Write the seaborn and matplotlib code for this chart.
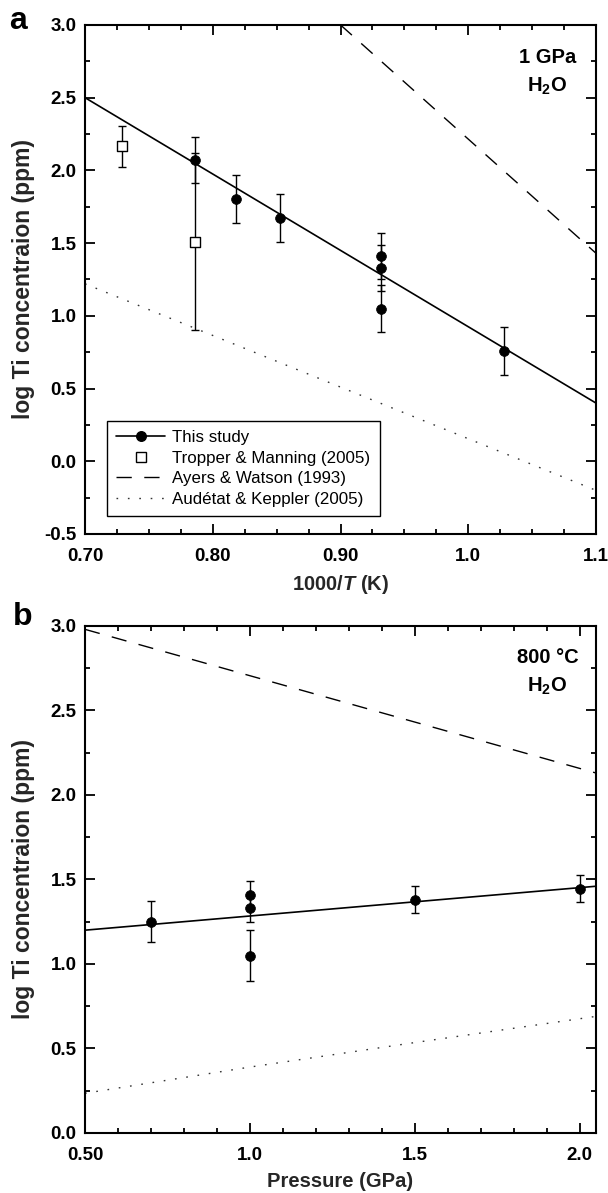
import matplotlib
matplotlib.use("Agg")
import matplotlib.pyplot as plt
import seaborn as sns
from matplotlib.lines import Line2D
from matplotlib.ticker import MultipleLocator

# ---------------- data (panel a: 1 GPa, H2O) ----------------
this_invT = [0.786, 0.818, 0.853, 0.932, 0.932, 0.932, 1.028]
this_logTi = [2.07, 1.80, 1.67, 1.41, 1.33, 1.05, 0.755]
this_err = [0.16, 0.165, 0.165, 0.16, 0.16, 0.16, 0.165]

tm_invT = [0.729, 0.786]
tm_logTi = [2.165, 1.51]
tm_err = [0.14, 0.61]

fit_a_x = [0.70, 1.10]
fit_a_y = [2.50, 0.40]
ayers_a_x = [0.90, 1.10]
ayers_a_y = [3.00, 1.43]
audetat_a_x = [0.70, 1.10]
audetat_a_y = [1.22, -0.20]

# ---------------- data (panel b: 800 C, H2O) ----------------
press = [0.70, 1.00, 1.00, 1.00, 1.50, 2.00]
press_logTi = [1.25, 1.41, 1.33, 1.05, 1.38, 1.445]
press_err = [0.12, 0.08, 0.08, 0.15, 0.08, 0.08]

fit_b_x = [0.50, 2.05]
fit_b_y = [1.20, 1.46]
ayers_b_x = [0.50, 2.05]
ayers_b_y = [2.98, 2.13]
audetat_b_x = [0.50, 1.00, 1.50, 2.05]
audetat_b_y = [0.235, 0.39, 0.535, 0.69]

xticks_a = [0.70, 0.80, 0.90, 1.0, 1.1]
xticklabels_a = ["0.70", "0.80", "0.90", "1.0", "1.1"]
yticks_a = [-0.5, 0.0, 0.5, 1.0, 1.5, 2.0, 2.5, 3.0]
yticklabels_a = ["-0.5", "0.0", "0.5", "1.0", "1.5", "2.0", "2.5", "3.0"]
xticks_b = [0.50, 1.0, 1.5, 2.0]
xticklabels_b = ["0.50", "1.0", "1.5", "2.0"]
yticks_b = [0.0, 0.5, 1.0, 1.5, 2.0, 2.5, 3.0]
yticklabels_b = ["0.0", "0.5", "1.0", "1.5", "2.0", "2.5", "3.0"]

legend_labels = ["This study", "Tropper & Manning (2005)",
                 "Ayers & Watson (1993)", "Audétat & Keppler (2005)"]

# ---------------- style ----------------
sns.set_theme(style="ticks")
plt.rcParams["font.family"] = ["Liberation Sans", "DejaVu Sans"]
plt.rcParams["mathtext.fontset"] = "custom"
plt.rcParams["mathtext.rm"] = "Liberation Sans"
plt.rcParams["mathtext.bf"] = "Liberation Sans:bold"
plt.rcParams["mathtext.it"] = "Liberation Sans:bold:italic"
plt.rcParams["axes.edgecolor"] = "black"
plt.rcParams["xtick.color"] = "black"
plt.rcParams["ytick.color"] = "black"
plt.rcParams["text.color"] = "black"

DASH = (0, (11, 9))
DOT = (0, (1.2, 7))
TICKFS = 13.5

fig = plt.figure(figsize=(6.08, 11.93), dpi=100)
ax1 = fig.add_axes([0.1398, 0.5524, 0.8405, 0.4267])
ax2 = fig.add_axes([0.1398, 0.0503, 0.8405, 0.4250])


def style_axis(ax, xt, xtl, yt, ytl, xminor, yminor):
    ax.set_xticks(xt)
    ax.set_xticklabels(xtl, fontweight="bold", fontsize=TICKFS)
    ax.set_yticks(yt)
    ax.set_yticklabels(ytl, fontweight="bold", fontsize=TICKFS)
    ax.xaxis.set_minor_locator(MultipleLocator(xminor))
    ax.yaxis.set_minor_locator(MultipleLocator(yminor))
    ax.tick_params(which="both", direction="in", top=True, right=True,
                   width=1.3, colors="black")
    ax.tick_params(which="major", length=7)
    ax.tick_params(which="minor", length=3.5)
    ax.tick_params(axis="x", which="major", pad=10)
    ax.tick_params(axis="y", which="major", pad=6)
    for s in ax.spines.values():
        s.set_linewidth(1.5)
        s.set_color("black")


# ---------------- panel a ----------------
sns.lineplot(x=fit_a_x, y=fit_a_y, ax=ax1, color="black", lw=1.2, legend=False)
sns.lineplot(x=ayers_a_x, y=ayers_a_y, ax=ax1, color="black", lw=1.0,
             linestyle=DASH, legend=False)
sns.lineplot(x=audetat_a_x, y=audetat_a_y, ax=ax1, color="#333333", lw=1.0,
             linestyle=DOT, legend=False)
ax1.errorbar(tm_invT, tm_logTi, yerr=tm_err, fmt="none", ecolor="black",
             elinewidth=1.0, capsize=3, capthick=1.0, zorder=2)
ax1.errorbar(this_invT, this_logTi, yerr=this_err, fmt="none", ecolor="black",
             elinewidth=1.0, capsize=3, capthick=1.0, zorder=2)
sns.scatterplot(x=tm_invT, y=tm_logTi, ax=ax1, marker="s", s=44,
                facecolor="white", edgecolor="black", linewidth=1.0, zorder=3)
sns.scatterplot(x=this_invT, y=this_logTi, ax=ax1, marker="o", s=50,
                color="black", edgecolor="black", linewidth=0.5, zorder=4)

ax1.set_xlim(0.70, 1.10)
ax1.set_ylim(-0.5, 3.0)
style_axis(ax1, xticks_a, xticklabels_a, yticks_a, yticklabels_a, 0.025, 0.25)
ax1.set_xlabel("1000/$\\mathit{T}$ (K)", fontsize=14.5, fontweight="bold")
ax1.set_ylabel("log Ti concentraion (ppm)", fontsize=16.5, fontweight="bold")
ax1.xaxis.set_label_coords(0.5, -0.076)
ax1.yaxis.set_label_coords(-0.098, 0.5)

handles = [
    Line2D([], [], color="black", lw=1.2, marker="o", markersize=6.9),
    Line2D([], [], ls="none", marker="s", mfc="white", mec="black",
           markersize=6.6, mew=1.0),
    Line2D([], [], color="black", lw=1.0, ls=DASH),
    Line2D([], [], color="#333333", lw=1.0, ls=DOT),
]
leg = ax1.legend(handles, legend_labels, loc="lower left",
                 bbox_to_anchor=(0.043, 0.035), frameon=True, fancybox=False,
                 edgecolor="black", framealpha=1, fontsize=12.2,
                 handlelength=2.9, handletextpad=0.4, labelspacing=0.33,
                 borderpad=0.55, borderaxespad=0)
leg.get_frame().set_linewidth(1.0)

ax1.text(0.905, 0.937, "1 GPa", transform=ax1.transAxes, ha="center",
         va="center", fontsize=14.5, fontweight="bold")
ax1.text(0.905, 0.880, "H$_\\mathbf{2}$O", transform=ax1.transAxes,
         ha="center", va="center", fontsize=14.5, fontweight="bold")

# ---------------- panel b ----------------
sns.lineplot(x=fit_b_x, y=fit_b_y, ax=ax2, color="black", lw=1.2, legend=False)
sns.lineplot(x=ayers_b_x, y=ayers_b_y, ax=ax2, color="black", lw=1.0,
             linestyle=DASH, legend=False)
sns.lineplot(x=audetat_b_x, y=audetat_b_y, ax=ax2, color="#333333", lw=1.0,
             linestyle=DOT, legend=False)
ax2.errorbar(press, press_logTi, yerr=press_err, fmt="none", ecolor="black",
             elinewidth=1.0, capsize=3, capthick=1.0, zorder=2)
sns.scatterplot(x=press, y=press_logTi, ax=ax2, marker="o", s=50,
                color="black", edgecolor="black", linewidth=0.5, zorder=4)

ax2.set_xlim(0.50, 2.05)
ax2.set_ylim(0.0, 3.0)
style_axis(ax2, xticks_b, xticklabels_b, yticks_b, yticklabels_b, 0.1, 0.25)
ax2.set_xlabel("Pressure (GPa)", fontsize=14.5, fontweight="bold")
ax2.set_ylabel("log Ti concentraion (ppm)", fontsize=16.5, fontweight="bold")
ax2.xaxis.set_label_coords(0.5, -0.077)
ax2.yaxis.set_label_coords(-0.098, 0.5)

ax2.text(0.905, 0.937, "800 °C", transform=ax2.transAxes, ha="center",
         va="center", fontsize=14.5, fontweight="bold")
ax2.text(0.905, 0.880, "H$_\\mathbf{2}$O", transform=ax2.transAxes,
         ha="center", va="center", fontsize=14.5, fontweight="bold")

fig.text(17.5 / 608, 1 - 21 / 1193, "a", fontsize=23, fontweight="bold",
         ha="center", va="center")
fig.text(23 / 608, 1 - 617 / 1193, "b", fontsize=23, fontweight="bold",
         ha="center", va="center")

fig.savefig("out.png", dpi=100)
